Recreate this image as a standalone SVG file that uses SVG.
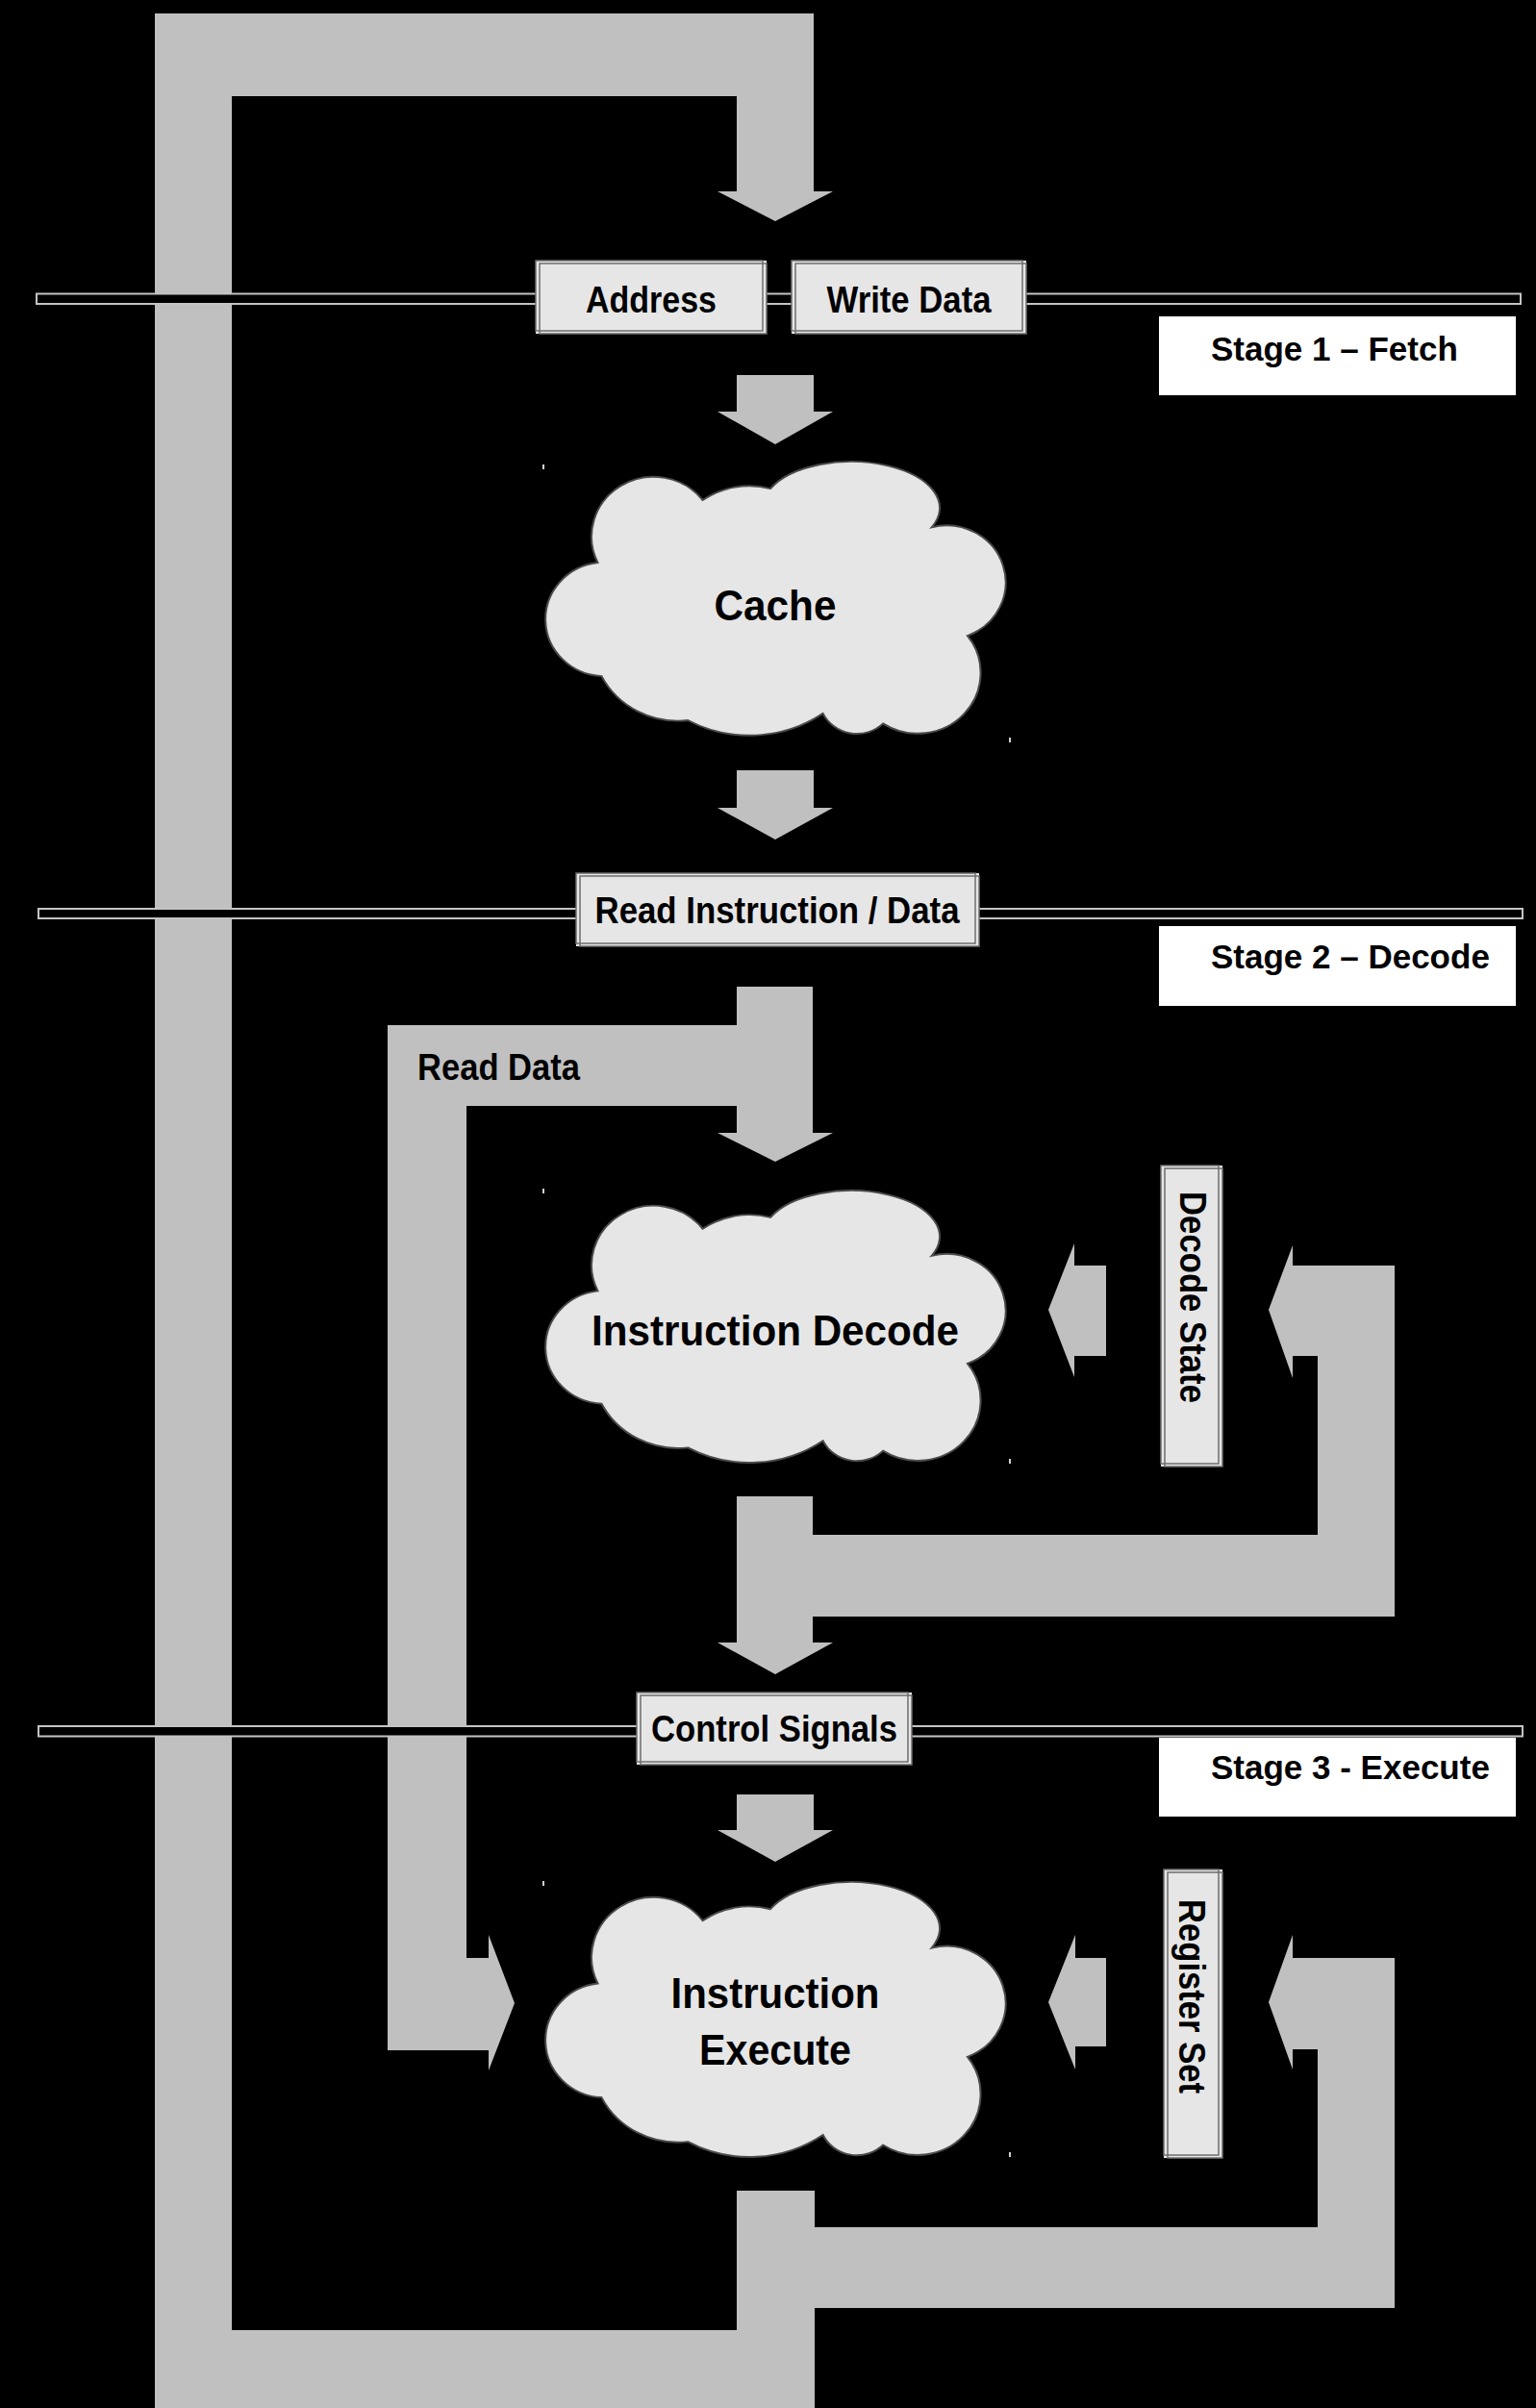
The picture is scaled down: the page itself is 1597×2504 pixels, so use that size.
<svg xmlns="http://www.w3.org/2000/svg" width="1597" height="2504" viewBox="0 0 1597 2504">
  <style>
    .bar { fill: #c0c0c0; }
    .sep { fill: #000; stroke: #c4c4c4; stroke-width: 2; }
    .bf { fill: #e6e6e6; }
    .bs { fill: none; stroke: #6e6e6e; stroke-width: 1.5; }
    .stage { fill: #fff; }
    .cloud { fill: #e6e6e6; stroke: #4a4a4a; stroke-width: 4; }
    .dot { fill: #d0d0d0; }
    .t { font-family: "Liberation Sans", Arial, sans-serif; font-weight: bold; font-size: 38px; fill: #000; }
    .st { font-size: 35px; }
    .ct { font-size: 45px; }
    .mid { text-anchor: middle; }
  </style>
  <defs>
    <!-- cloud outline in a 1000 x 600 box, traced clockwise from the upper-left valley -->
    <path id="cloudShape" d="M122,224 A130,130 0 0 1 342,88 A170,170 0 0 1 484,63 A175,95 0 0 1 822,147 A124,124 0 0 1 897,383 A132,132 0 0 1 720,574 A79,79 0 0 1 594,552 A270,270 0 0 1 311,567 A180,180 0 0 1 130,471 A124,124 0 0 1 122,224 Z"/>
  </defs>

  <rect width="1597" height="2504" fill="#000"/>

  <!-- block-arrow connectors -->
  <g id="connectors">
    <!-- write-back loop: execute output, along the bottom, up the left side, into the address bus -->
    <polygon class="bar" points="766,2278 847,2278 847,2504 161,2504 161,14 846,14 846,199 866,199 806,230 746,199 766,199 766,100 241,100 241,2423 766,2423"/>
    <!-- address / write data into cache -->
    <polygon class="bar" points="766,390 846,390 846,428 866,428 806,462 746,428 766,428"/>
    <!-- cache out to read instruction / data -->
    <polygon class="bar" points="766,801 846,801 846,840 866,840 806,873 746,840 766,840"/>
    <!-- read instruction into decode, with the read data branch down to execute -->
    <polygon class="bar" points="766,1026 845,1026 845,1178 866,1178 806,1208 746,1178 766,1178 766,1150 485,1150 485,2036 508,2036 508,2012 535,2083 508,2153 508,2132 403,2132 403,1066 766,1066"/>
    <!-- decode out to control signals, with the decode state feedback loop -->
    <polygon class="bar" points="766,1556 845,1556 845,1596 1370,1596 1370,1410 1344,1410 1344,1433 1319,1362 1344,1295 1344,1316 1450,1316 1450,1681 845,1681 845,1708 866,1708 806,1741 746,1708 766,1708"/>
    <!-- decode state into decode -->
    <polygon class="bar" points="1150,1316 1150,1410 1117,1410 1117,1432 1090,1362 1117,1293 1117,1316"/>
    <!-- control signals into execute -->
    <polygon class="bar" points="766,1866 846,1866 846,1903 866,1903 806,1936 746,1903 766,1903"/>
    <!-- register set feedback loop from execute output -->
    <polygon class="bar" points="840,2316 1370,2316 1370,2131 1344,2131 1344,2152 1319,2082 1344,2012 1344,2036 1450,2036 1450,2400 840,2400"/>
    <!-- register set into execute -->
    <polygon class="bar" points="1150,2036 1150,2128 1118,2128 1118,2152 1090,2082 1118,2012 1118,2036"/>
    <text class="t" x="434" y="1123" textLength="169" lengthAdjust="spacingAndGlyphs">Read Data</text>
  </g>

  <!-- stage separators -->
  <g id="separators">
    <rect class="sep" x="38" y="305.5" width="1543" height="10.5"/>
    <rect class="sep" x="40" y="945" width="1543" height="10"/>
    <rect class="sep" x="40" y="1795" width="1543" height="10.5"/>
  </g>

  <!-- bus labels -->
  <g id="address">
    <rect class="bf" x="557" y="271" width="240" height="76"/>
    <rect class="bs" x="557" y="271" width="236" height="73"/>
    <rect class="bs" x="561" y="274" width="236" height="73"/>
    <text class="t mid" x="677" y="325" textLength="136" lengthAdjust="spacingAndGlyphs">Address</text>
  </g>
  <g id="write-data">
    <rect class="bf" x="823" y="271" width="244" height="76"/>
    <rect class="bs" x="823" y="271" width="240" height="73"/>
    <rect class="bs" x="827" y="274" width="240" height="73"/>
    <text class="t mid" x="945" y="325" textLength="171" lengthAdjust="spacingAndGlyphs">Write Data</text>
  </g>
  <g id="read-instruction-data">
    <rect class="bf" x="599" y="908" width="419" height="76"/>
    <rect class="bs" x="599" y="908" width="415" height="73"/>
    <rect class="bs" x="603" y="911" width="415" height="73"/>
    <text class="t mid" x="808" y="960" textLength="379" lengthAdjust="spacingAndGlyphs">Read Instruction / Data</text>
  </g>
  <g id="control-signals">
    <rect class="bf" x="662" y="1760" width="286" height="75"/>
    <rect class="bs" x="662" y="1760" width="282" height="72"/>
    <rect class="bs" x="666" y="1763" width="282" height="72"/>
    <text class="t mid" x="805" y="1811" textLength="256" lengthAdjust="spacingAndGlyphs">Control Signals</text>
  </g>
  <g id="decode-state">
    <rect class="bf" x="1207" y="1212" width="64" height="313"/>
    <rect class="bs" x="1207" y="1212" width="60" height="310"/>
    <rect class="bs" x="1211" y="1215" width="60" height="310"/>
    <text class="t" transform="translate(1227,1239) rotate(90)" textLength="220" lengthAdjust="spacingAndGlyphs">Decode State</text>
  </g>
  <g id="register-set">
    <rect class="bf" x="1210" y="1944" width="61" height="300"/>
    <rect class="bs" x="1210" y="1944" width="57" height="297"/>
    <rect class="bs" x="1214" y="1947" width="57" height="297"/>
    <text class="t" transform="translate(1226,1975) rotate(90)" textLength="202" lengthAdjust="spacingAndGlyphs">Register Set</text>
  </g>

  <!-- processing clouds -->
  <g id="cache">
    <use href="#cloudShape" class="cloud" transform="translate(561,478) scale(0.496,0.478)"/>
    <rect class="dot" x="564" y="483" width="2" height="5"/>
    <rect class="dot" x="1049" y="767" width="2" height="5"/>
    <text class="t ct mid" x="806" y="645" textLength="127" lengthAdjust="spacingAndGlyphs">Cache</text>
  </g>
  <g id="instruction-decode">
    <use href="#cloudShape" class="cloud" transform="translate(561,1236) scale(0.496,0.475)"/>
    <rect class="dot" x="564" y="1236" width="2" height="5"/>
    <rect class="dot" x="1049" y="1517" width="2" height="5"/>
    <text class="t ct mid" x="806" y="1399" textLength="382" lengthAdjust="spacingAndGlyphs">Instruction Decode</text>
  </g>
  <g id="instruction-execute">
    <use href="#cloudShape" class="cloud" transform="translate(561,1955) scale(0.496,0.48)"/>
    <rect class="dot" x="564" y="1956" width="2" height="5"/>
    <rect class="dot" x="1049" y="2238" width="2" height="5"/>
    <text class="t ct mid" x="806" y="2088" textLength="217" lengthAdjust="spacingAndGlyphs">Instruction</text>
    <text class="t ct mid" x="806" y="2147" textLength="158" lengthAdjust="spacingAndGlyphs">Execute</text>
  </g>

  <!-- stage captions -->
  <g id="stage-1">
    <rect class="stage" x="1205" y="329" width="371" height="82"/>
    <text class="t st" x="1259" y="375">Stage 1 – Fetch</text>
  </g>
  <g id="stage-2">
    <rect class="stage" x="1205" y="963" width="371" height="83"/>
    <text class="t st" x="1259" y="1007">Stage 2 – Decode</text>
  </g>
  <g id="stage-3">
    <rect class="stage" x="1205" y="1807" width="371" height="82"/>
    <text class="t st" x="1259" y="1850">Stage 3 - Execute</text>
  </g>
</svg>
